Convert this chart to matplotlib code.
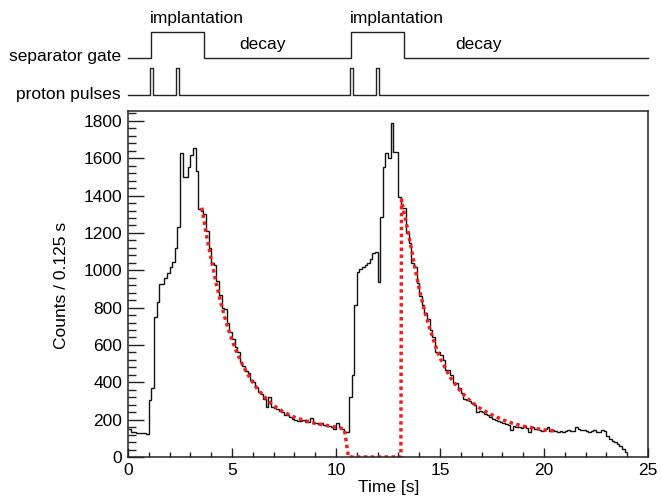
import numpy as np
import matplotlib.pyplot as plt
from matplotlib.ticker import MultipleLocator

plt.rcParams['font.family'] = ['Liberation Sans', 'DejaVu Sans']

# histogram: counts per 0.125 s bin, 0 .. 24 s
bin_width = 0.125
hist_counts = [
    150, 136, 132, 130, 128, 130, 127, 124,
    305, 371, 752, 829, 925, 925, 957, 988, 1020, 1046, 1118, 1234,
    1630, 1502, 1502, 1555, 1618, 1654, 1529,
    1330, 1320, 1300, 1210, 1120, 1040, 1030, 940, 870, 800,
    790, 720, 670, 630, 590, 560, 510, 490, 460, 450,
    410, 400, 375, 350, 340, 310, 270, 320, 270,
    265, 255, 245, 240, 225, 225, 215, 205,
    200, 195, 192, 198, 190, 185, 210, 180,
    180, 175, 182, 170, 168, 165, 160, 152,
    180, 162, 150, 132,
    135, 323, 439, 814, 993, 1005, 1020, 1029, 1040, 1060,
    1091, 1100, 939, 1287, 1555, 1627, 1600, 1787, 1636, 1636,
    1395, 1332, 1332, 1198, 1145, 1037, 1020,
    930, 860, 814, 770, 740, 680, 640, 564, 560, 545,
    520, 466, 466, 440, 395, 395, 368, 345, 310, 305,
    300, 290, 280, 240, 245, 240, 232, 225, 215, 205,
    198, 192, 186, 180, 175, 170, 142, 166, 162, 163,
    156, 165, 155, 136, 158, 150, 148, 145, 140, 150,
    162, 140, 142, 138, 135, 140, 136, 140, 145, 138,
    140, 158, 150, 142, 145, 140, 136, 138, 145, 135,
    132, 145, 138, 110, 95, 88, 78, 70, 58, 45,
    25,
]

# fitted decay curve (red dotted)
fit_t = [3.55, 3.75, 4.0, 4.25, 4.5, 4.75, 5.0, 5.25, 5.5, 5.75, 6.0, 6.25,
         6.5, 6.75, 7.0, 7.5, 8.0, 8.5, 9.0, 9.5, 10.0, 10.4, 10.6, 13.12,
         13.15, 13.25, 13.5, 13.75, 14.0, 14.25, 14.5, 14.75, 15.0, 15.5,
         16.0, 16.5, 17.0, 17.5, 18.0, 18.5, 19.0, 19.5, 20.0, 20.65]
fit_counts = [1335, 1200, 1060, 925, 810, 710, 625, 555, 495, 445, 400, 360,
              330, 300, 275, 240, 213, 195, 180, 170, 160, 150, 0, 0,
              1378, 1320, 1190, 1040, 900, 785, 690, 605, 530, 425,
              350, 295, 255, 225, 200, 180, 165, 155, 145, 138]

# timing scheme (s)
gate_on = [1.12, 10.72]
gate_off = [3.67, 13.26]
pulse_on = [1.07, 2.32, 10.67, 11.94]
pulse_len = 0.15

fig = plt.figure(figsize=(6.62, 4.98), dpi=100)
W, H = 662, 498
ax = fig.add_axes([128 / W, 1 - 457 / H, 520 / W, 346 / H])

edges = np.arange(len(hist_counts) + 1) * bin_width
ax.stairs(hist_counts, edges, color='#111111', lw=1.0, baseline=None)
ax.plot(fit_t, fit_counts, color='#ee2020', lw=2.5,
        linestyle=(0, (1.0, 1.0)), dash_capstyle='butt')

ax.set_xlim(0, 25)
ax.set_ylim(0, 1853)
ax.xaxis.set_major_locator(MultipleLocator(5))
ax.xaxis.set_minor_locator(MultipleLocator(1))
ax.yaxis.set_major_locator(MultipleLocator(200))
ax.yaxis.set_minor_locator(MultipleLocator(40))
ax.tick_params(axis='both', which='both', direction='in', labelsize=12.5,
               top=False, right=False, width=1.0, color='#222222')
ax.tick_params(axis='x', which='major', length=6.5, pad=4)
ax.tick_params(axis='x', which='minor', length=3.6)
ax.tick_params(axis='y', which='major', length=11.5, pad=4)
ax.tick_params(axis='y', which='minor', length=5.8)
for s in ax.spines.values():
    s.set_linewidth(1.1)
    s.set_color('#222222')

fig.text(389 / W, 1 - 487 / H, 'Time [s]', ha='center', va='center', fontsize=12.5)
fig.text(62 / W, 1 - 285 / H, 'Counts / 0.125 s', ha='center', va='center',
         rotation=90, fontsize=12.5)

# timing diagram on top
top = fig.add_axes([128 / W, 1 - 104.6 / H, 520 / W, 104.6 / H])
top.set_xlim(0, 25)
top.set_ylim(104.6, 0)
top.axis('off')

gx, gy = [0], [58]
for a, b in zip(gate_on, gate_off):
    gx += [a, a, b, b]
    gy += [58, 32, 32, 58]
gx.append(25)
gy.append(58)
top.plot(gx, gy, color='#222222', lw=1.0, clip_on=False)

px, py = [0], [95]
for a in pulse_on:
    px += [a, a, a + pulse_len, a + pulse_len]
    py += [95, 68, 68, 95]
px.append(25)
py.append(95)
top.plot(px, py, color='#222222', lw=1.0, clip_on=False)

top.text(-0.35, 57, 'separator gate', ha='right', va='center', fontsize=12.5, clip_on=False)
top.text(-0.35, 94, 'proton pulses', ha='right', va='center', fontsize=12.5, clip_on=False)
for a in gate_on:
    top.text(a - 0.05, 19, 'implantation', ha='left', va='center', fontsize=12.5)
top.text(5.35, 44, 'decay', ha='left', va='center', fontsize=12.5)
top.text(15.75, 44, 'decay', ha='left', va='center', fontsize=12.5)

fig.savefig('out.png', dpi=100)
